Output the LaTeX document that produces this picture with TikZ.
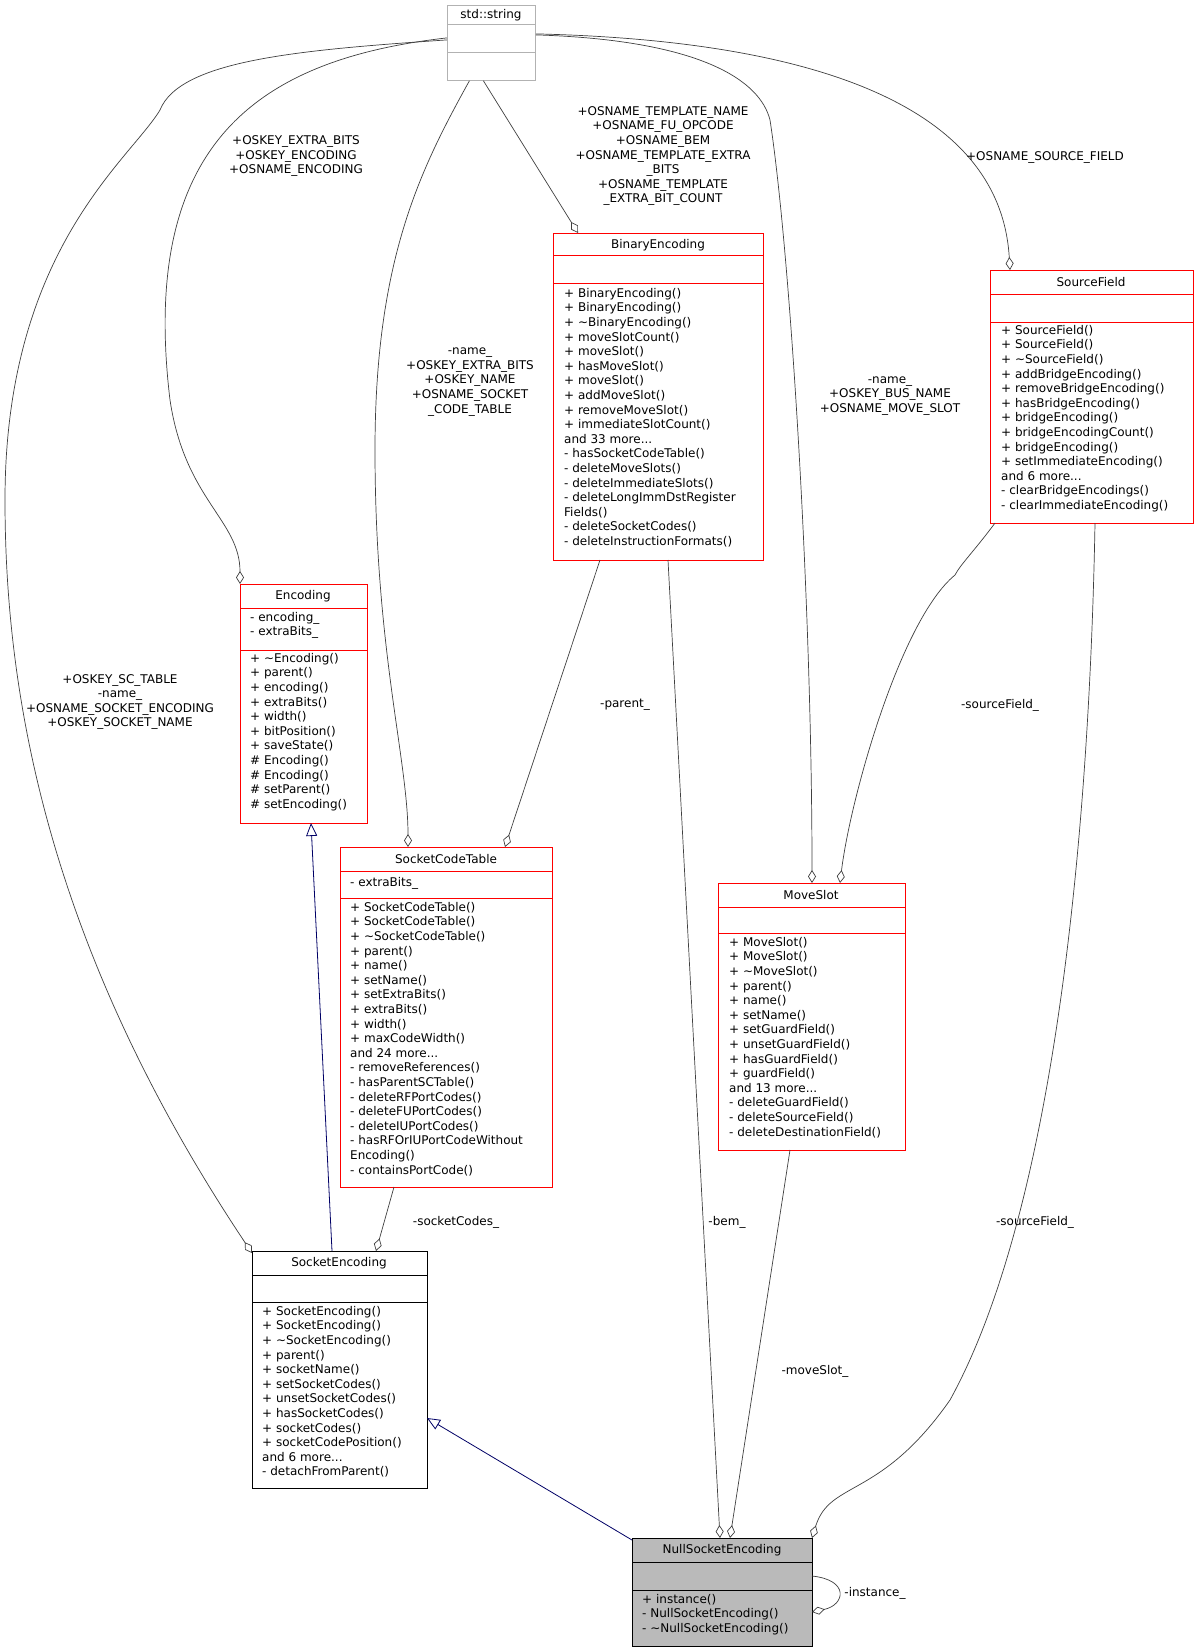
\documentclass[tikz,border=0pt]{standalone}
\usepackage{fontspec}
\setmainfont{DejaVu Sans}
\usetikzlibrary{arrows.meta,calc}
\begin{document}
\begin{tikzpicture}[x=1pt,y=-1pt,
  box/.style={draw=red,line width=0.8pt,anchor=north west,inner sep=0pt},
  gbox/.style={draw=black!30,line width=0.8pt,anchor=north west,inner sep=0pt},
  ttl/.style={font=\fontsize{12}{14.6}\selectfont,inner sep=0pt},
  mem/.style={font=\fontsize{12}{14.6}\selectfont,align=left,anchor=north west,inner sep=0pt},
  lbl/.style={font=\fontsize{12}{14.6}\selectfont,align=center,inner sep=0pt},
  agg/.style={draw=black!75,line width=0.7pt,-{Diamond[open,length=13pt,width=8pt]}},
  inh/.style={draw=blue!40!black,line width=0.8pt,-{Triangle[open,length=13pt,width=11pt]}},
]
\useasboundingbox (0,0) rectangle (1198,1651);
\fill[white] (0,0) rectangle (1198,1651);
% std::string
\node[gbox,minimum width=88,minimum height=75] (str) at (447,5) {};
\draw[black!30] (447,24)--(535,24) (447,52)--(535,52);
\node[ttl] at (491,15) {std::string};
% BinaryEncoding
\node[box,minimum width=210,minimum height=327] (be) at (553,233) {};
\draw[red] (553,255)--(763,255) (553,283)--(763,283);
\node[ttl] at (658,245) {BinaryEncoding};
\node[mem] at (564,288) {+ BinaryEncoding()\\+ BinaryEncoding()\\+ \textasciitilde BinaryEncoding()\\+ moveSlotCount()\\+ moveSlot()\\+ hasMoveSlot()\\+ moveSlot()\\+ addMoveSlot()\\+ removeMoveSlot()\\+ immediateSlotCount()\\and 33 more...\\- hasSocketCodeTable()\\- deleteMoveSlots()\\- deleteImmediateSlots()\\- deleteLongImmDstRegister\\Fields()\\- deleteSocketCodes()\\- deleteInstructionFormats()};
% SourceField
\node[box,minimum width=203,minimum height=253] (sf) at (990,270) {};
\draw[red] (990,294)--(1193,294) (990,322)--(1193,322);
\node[ttl] at (1091,282) {SourceField};
\node[mem] at (1001,325) {+ SourceField()\\+ SourceField()\\+ \textasciitilde SourceField()\\+ addBridgeEncoding()\\+ removeBridgeEncoding()\\+ hasBridgeEncoding()\\+ bridgeEncoding()\\+ bridgeEncodingCount()\\+ bridgeEncoding()\\+ setImmediateEncoding()\\and 6 more...\\- clearBridgeEncodings()\\- clearImmediateEncoding()};
% Encoding
\node[box,minimum width=127,minimum height=239] (enc) at (240,584) {};
\draw[red] (240,608)--(367,608) (240,650)--(367,650);
\node[ttl] at (303,596) {Encoding};
\node[mem] at (250,612) {- encoding\_\\- extraBits\_};
\node[mem] at (250,653) {+ \textasciitilde Encoding()\\+ parent()\\+ encoding()\\+ extraBits()\\+ width()\\+ bitPosition()\\+ saveState()\\\# Encoding()\\\# Encoding()\\\# setParent()\\\# setEncoding()};
% SocketCodeTable
\node[box,minimum width=212,minimum height=340] (sct) at (340,847) {};
\draw[red] (340,871)--(552,871) (340,898)--(552,898);
\node[ttl] at (446,859) {SocketCodeTable};
\node[mem] at (350,877) {- extraBits\_};
\node[mem] at (350,902) {+ SocketCodeTable()\\+ SocketCodeTable()\\+ \textasciitilde SocketCodeTable()\\+ parent()\\+ name()\\+ setName()\\+ setExtraBits()\\+ extraBits()\\+ width()\\+ maxCodeWidth()\\and 24 more...\\- removeReferences()\\- hasParentSCTable()\\- deleteRFPortCodes()\\- deleteFUPortCodes()\\- deleteIUPortCodes()\\- hasRFOrIUPortCodeWithout\\Encoding()\\- containsPortCode()};
% MoveSlot
\node[box,minimum width=187,minimum height=267] (ms) at (718,883) {};
\draw[red] (718,907)--(905,907) (718,933)--(905,933);
\node[ttl] at (811,895) {MoveSlot};
\node[mem] at (729,937) {+ MoveSlot()\\+ MoveSlot()\\+ \textasciitilde MoveSlot()\\+ parent()\\+ name()\\+ setName()\\+ setGuardField()\\+ unsetGuardField()\\+ hasGuardField()\\+ guardField()\\and 13 more...\\- deleteGuardField()\\- deleteSourceField()\\- deleteDestinationField()};
% SocketEncoding
\node[draw,line width=0.8pt,anchor=north west,inner sep=0pt,minimum width=175,minimum height=237] (se) at (252,1251) {};
\draw (252,1275)--(427,1275) (252,1302)--(427,1302);
\node[ttl] at (339,1263) {SocketEncoding};
\node[mem] at (262,1306) {+ SocketEncoding()\\+ SocketEncoding()\\+ \textasciitilde SocketEncoding()\\+ parent()\\+ socketName()\\+ setSocketCodes()\\+ unsetSocketCodes()\\+ hasSocketCodes()\\+ socketCodes()\\+ socketCodePosition()\\and 6 more...\\- detachFromParent()};
% NullSocketEncoding
\node[draw,fill=black!27,line width=0.8pt,anchor=north west,inner sep=0pt,minimum width=180,minimum height=108] (nse) at (632,1538) {};
\draw (632,1562)--(812,1562) (632,1590)--(812,1590);
\node[ttl] at (722,1550) {NullSocketEncoding};
\node[mem] at (642,1594) {+ instance()\\- NullSocketEncoding()\\- \textasciitilde NullSocketEncoding()};
% connectors
\draw[agg] (str.west) ++(0,-3) .. controls (300,50) and (180,60) .. (160,110) .. controls (130,160) and (5,250) .. (5,500) .. controls (5,700) and (50,950) .. (252,1253);
\node[lbl] at (120,702) {+OSKEY\_SC\_TABLE\\-name\_\\+OSNAME\_SOCKET\_ENCODING\\+OSKEY\_SOCKET\_NAME};
\draw[agg] (str.west) ++(0,-5) .. controls (250,60) and (140,150) .. (170,400) .. controls (185,500) and (240,520) .. (240,584);
\node[lbl] at (296,156) {+OSKEY\_EXTRA\_BITS\\+OSKEY\_ENCODING\\+OSNAME\_ENCODING};
\draw[agg] (str.south) ++(-22,0) .. controls (420,170) and (375,260) .. (375,450) .. controls (375,650) and (408,760) .. (408,847);
\node[lbl] at (470,382) {-name\_\\+OSKEY\_EXTRA\_BITS\\+OSKEY\_NAME\\+OSNAME\_SOCKET\\\_CODE\_TABLE};
\draw[agg] (str.south) ++(-8,0) -- (578,233);
\node[lbl] at (663,156) {+OSNAME\_TEMPLATE\_NAME\\+OSNAME\_FU\_OPCODE\\+OSNAME\_BEM\\+OSNAME\_TEMPLATE\_EXTRA\\\_BITS\\+OSNAME\_TEMPLATE\\\_EXTRA\_BIT\_COUNT};
\draw[agg] (str.east) ++(0,-8) .. controls (700,40) and (760,80) .. (770,120) .. controls (790,250) and (812,600) .. (812,883);
\node[lbl] at (890,396) {-name\_\\+OSKEY\_BUS\_NAME\\+OSNAME\_MOVE\_SLOT};
\draw[agg] (str.east) ++(0,-9) .. controls (800,40) and (1000,100) .. (1010,270);
\node[lbl] at (1045,157) {+OSNAME\_SOURCE\_FIELD};
\draw[agg] (600,560) -- (505,847);
\node[lbl] at (625,705) {-parent\_};
\draw[agg] (995,523) .. controls (975,550) and (960,565) .. (955,575) .. controls (900,620) and (850,800) .. (840,883);
\node[lbl] at (1000,705) {-sourceField\_};
\draw[agg] (394,1187) -- (376,1251);
\node[lbl] at (456,1222) {-socketCodes\_};
\draw[agg] (668,560) -- (720,1538);
\node[lbl] at (727,1222) {-bem\_};
\draw[agg] (790,1150) -- (730,1538);
\node[lbl] at (815,1371) {-moveSlot\_};
\draw[agg] (1095,523) .. controls (1090,800) and (1060,1200) .. (950,1400) .. controls (880,1500) and (830,1480) .. (812,1538);
\node[lbl] at (1035,1222) {-sourceField\_};
\draw[agg] (812,1576) .. controls (850,1580) and (845,1605) .. (812,1612);
\node[lbl] at (875,1593) {-instance\_};
\draw[inh] (332,1251) -- (311,823);
\draw[inh] (632,1540) -- (427,1418);
\end{tikzpicture}
\end{document}
